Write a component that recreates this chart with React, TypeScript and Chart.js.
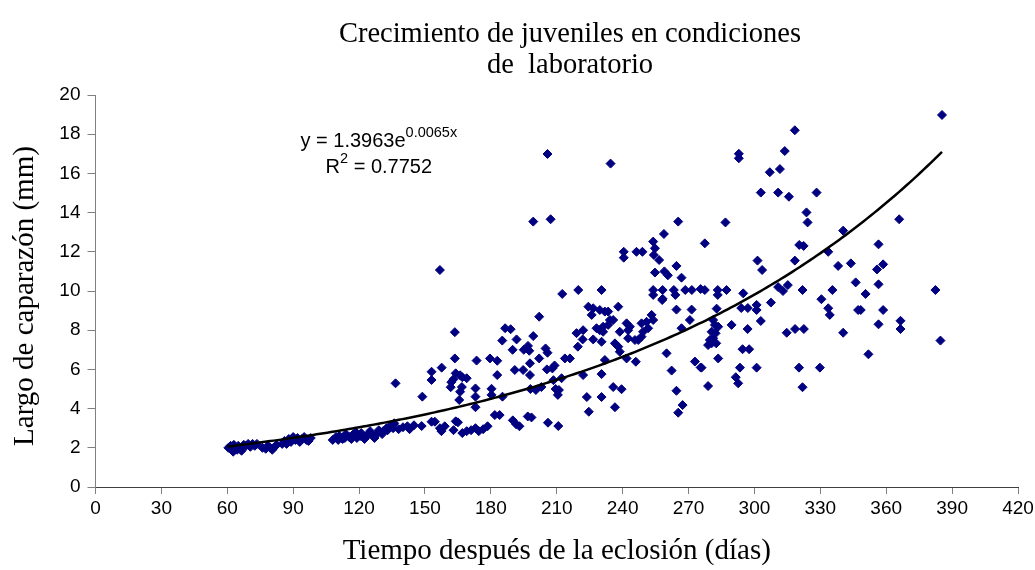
import React, { useEffect, useRef } from 'react';
import { Chart, registerables } from 'chart.js';

Chart.register(...registerables);

// Days after hatching for each measured juvenile
const dias: number[] = [
  // first weeks
  60.5, 61.5, 62, 62.7, 63, 63.5, 64.5, 65, 66, 66.5, 67.5, 68.5, 69.5, 70.5, 71.5, 72.5, 73.5,
  76, 77.5, 78.5, 79.5, 80.5, 81.5, 82.5, 85, 86, 87, 88, 89, 90, 91, 92, 93, 94, 95, 96, 97, 98,
  108, 109.5, 110.5, 111, 112.5, 113.5, 114, 115.5, 116.5, 117, 118.5, 119, 120.5, 121, 122.5, 123,
  124.5, 125, 126.5, 127, 128.5, 129, 130.5, 131, 132.5, 133, 134, 135.5, 136,
  138, 140, 142, 143, 145, 148.5, 153, 154.5, 156.8, 157.5, 159, 163, 164, 165, 167, 169, 171, 173,
  174.5, 176.5, 178.5,
  // 150 - 220 days
  202, 186.5, 189, 163.6, 219, 185.2, 191.7, 199.3, 196.9, 195, 197.5, 189.9, 204.9, 205.8, 219.6,
  163.6, 173.5, 179.6, 182.9, 197.8, 202, 213.7, 216, 136.6, 153, 157.6, 153, 164, 166, 163, 167,
  162, 169, 161.7, 166.8, 166, 165.6, 173, 173, 173, 148.8, 180.3, 180.3, 182.9, 190.9, 194.7,
  197.8, 205.5, 208, 209, 212.2, 208.5, 209.5, 211, 210.5, 198, 200.5, 203, 185.3, 181.8, 184,
  190, 193, 191.5, 196.8, 198.5, 206, 210.7,
  205.8, 199.3, 207.2, 156.8, 212.5, 219.8,
  // 220 - 290 days
  234.5, 265.3, 258.8, 253.9, 254.7, 277.4, 240.5, 240.5, 246.3, 249, 254.2, 256.6, 264.5, 254.7,
  259, 260.6, 266.8, 230.4, 253.9, 253.9, 258.2, 258.2, 263.3, 264, 268.5, 271.5, 275.5, 277.4,
  283.3, 283.3, 287.3,
  224.4, 226.6, 225.9, 229.6, 231.9, 233.4, 238, 264.5, 271.4, 282.8, 258, 270.6, 234.2, 235.7,
  233.4, 231.1, 228.1, 229.6, 231.1, 222, 221.8, 226.6, 230.4, 241.8, 243.3, 242.5, 238.7, 248.6,
  250.9, 253.2, 253.9, 251.6, 249.3, 236.5, 238, 238.7, 242.5, 245.6, 247.1, 248.6, 231.9, 241.8,
  246, 260, 266.8, 262.3, 272.9, 275.5, 278.9, 281.2, 282, 283.5, 280.5, 282.3, 281.2, 279.7,
  280.5, 282.6, 278.9, 283.5, 222, 230.4, 235.7, 239.5, 223.7, 230.4, 236.5, 224.6, 264.5, 267.3,
  265.3,
  // 285 - 350 days
  318.4, 292.9, 292.9, 313.8, 307, 311.6, 302.9, 310.8, 315.7, 328.3, 323.7, 324.2, 286.8, 340.4,
  320.4, 322.4, 333.6, 301.4, 303.5, 318.4, 338.1, 343.9, 346.1, 310.8, 313, 315.2, 321.9, 335.5,
  294.9, 330.5, 307.5, 301, 294, 297, 333.6,
  301, 334.3, 347.2, 289.6, 296.9, 302.9, 314.7, 318.5, 322.5, 340.4, 294.6, 297.6, 275.9, 293.4,
  301, 320.3, 329.8, 291.5, 292.6, 321.9,
  // last measurements
  385.4, 365.9, 356.5, 355.8, 358.6, 356.5, 382.4, 350.6, 348.4, 358.6, 356.5, 366.5, 366.5, 384.7,
  351.9,
];

// Carapace length (mm), same order as dias
const largo: number[] = [
  2.0, 2.1, 1.95, 1.8, 2.15, 2.0, 1.9, 2.1, 2.0, 1.85, 2.15, 2.1, 2.2, 2.05, 2.2, 2.1, 2.2,
  2.0, 1.95, 2.1, 2.0, 1.9, 2.05, 2.15, 2.2, 2.35, 2.2, 2.45, 2.3, 2.55, 2.4, 2.5, 2.3, 2.45, 2.55, 2.4, 2.35, 2.5,
  2.4, 2.55, 2.4, 2.6, 2.45, 2.5, 2.7, 2.55, 2.45, 2.65, 2.8, 2.5, 2.6, 2.75, 2.45, 2.55,
  2.7, 2.85, 2.6, 2.5, 2.75, 2.9, 2.7, 2.85, 3.0, 2.9, 3.1, 3.0, 3.25,
  2.95, 3.05, 3.1, 2.95, 3.15, 3.11, 3.33, 3.33, 3.0, 2.85, 3.1, 2.9, 3.35, 3.3, 2.75, 2.85, 2.9, 3.0,
  2.85, 2.95, 3.1,
  8.69, 8.1, 8.05, 7.9, 7.85, 7.47, 7.53, 7.7, 7.2, 7.0, 6.95, 7.0, 7.07, 6.85, 7.16,
  6.56, 6.45, 6.56, 6.44, 6.31, 6.56, 6.56, 6.56, 5.29, 5.88, 6.09, 5.46, 5.8, 5.7, 5.5, 5.6,
  5.35, 5.55, 5.09, 5.1, 4.86, 4.44, 5.03, 4.61, 4.07, 4.61, 5.01, 4.7, 5.71, 5.97, 5.97,
  5.71, 6.0, 6.05, 6.2, 5.55, 5.45, 5.0, 4.95, 4.7, 5.0, 4.95, 5.1, 4.61, 3.67, 3.67,
  3.4, 3.1, 3.2, 3.6, 3.55, 3.28, 3.11,
  16.99, 13.54, 13.66, 11.07, 9.85, 10.05,
  16.5, 13.54, 12.91, 12.52, 12.18, 12.43, 12.0, 11.7, 12.0, 12.0, 11.84, 11.58, 11.28, 10.94,
  11.0, 10.8, 10.68, 10.05, 10.05, 9.8, 10.05, 9.6, 10.05, 9.8, 10.05, 10.05, 10.1, 10.05,
  10.05, 9.8, 10.05,
  9.2, 9.12, 8.78, 9.03, 8.95, 8.95, 9.2, 9.05, 9.05, 9.1, 9.54, 8.52, 8.52, 8.52,
  8.27, 8.18, 8.1, 8.0, 7.92, 8.0, 7.53, 7.53, 7.41, 8.35, 8.18, 8.0, 7.92, 8.35,
  8.43, 8.78, 8.52, 8.1, 7.92, 7.33, 7.16, 6.9, 7.59, 7.5, 7.5, 7.67, 6.48, 6.56,
  6.39, 6.82, 8.1, 5.94, 6.4, 6.1, 5.15, 8.52, 8.27, 8.18, 7.92, 7.84, 7.59, 7.5,
  7.33, 7.33, 7.24, 6.56, 5.71, 5.76, 5.1, 4.99, 4.59, 4.59, 4.07, 3.84, 4.91, 4.18,
  3.79,
  18.2, 16.77, 17.0, 17.14, 16.06, 16.22, 15.02, 15.02, 14.81, 15.02, 14.01, 13.5, 13.5, 13.08,
  12.35, 12.3, 12.0, 11.55, 11.07, 11.55, 11.28, 11.41, 10.44, 10.2, 10.0, 10.3, 10.05, 10.05,
  9.88, 9.58, 9.41, 9.29, 9.13, 9.13, 9.12,
  9.03, 8.78, 9.03, 8.27, 8.06, 8.47, 7.87, 8.06, 8.06, 7.87, 7.03, 7.03, 6.09, 6.09,
  6.09, 6.09, 6.09, 5.6, 5.29, 5.09,
  18.98, 13.66, 12.38, 11.1, 11.36, 10.34, 10.05, 9.85, 9.03, 9.03, 8.3, 8.06, 8.48, 7.47,
  6.77,
];

// Axis ticks
const xTickValues = [0, 30, 60, 90, 120, 150, 180, 210, 240, 270, 300, 330, 360, 390, 420];
const yTickValues = [0, 2, 4, 6, 8, 10, 12, 14, 16, 18, 20];

// Exponential trend line y = a * e^(b x)
const trendA = 1.3963;
const trendB = 0.0065;
const trendR2 = 0.7752;
const trendStart = 60;
const trendEnd = 385.4;

const titleLines = ['Crecimiento de juveniles en condiciones', 'de  laboratorio'];
const xAxisTitle = 'Tiempo después de la eclosión (días)';
const yAxisTitle = 'Largo de caparazón (mm)';

const SERIF = '"Liberation Serif", "Times New Roman", serif';
const SANS = '"Liberation Sans", Arial, sans-serif';
const MARKER = '#000080';

function trendPoints() {
  const pts: { x: number; y: number }[] = [];
  const n = 200;
  for (let i = 0; i <= n; i++) {
    const x = trendStart + ((trendEnd - trendStart) * i) / n;
    pts.push({ x, y: trendA * Math.exp(trendB * x) });
  }
  return pts;
}

const textPlugin = {
  id: 'chartTexts',
  afterDraw(chart: any) {
    const { ctx, chartArea, scales } = chart;
    ctx.save();
    ctx.fillStyle = '#000';
    ctx.textBaseline = 'alphabetic';
    ctx.textAlign = 'center';

    // title
    ctx.font = `28.5px ${SERIF}`;
    ctx.fillText(titleLines[0], 570, 41.5);
    ctx.fillText(titleLines[1], 570, 73);

    // x axis title
    ctx.font = `29px ${SERIF}`;
    ctx.fillText(xAxisTitle, (chartArea.left + chartArea.right) / 2, 559);

    // y axis title
    ctx.save();
    ctx.translate(33, 296);
    ctx.rotate(-Math.PI / 2);
    ctx.fillText(yAxisTitle, 0, 0);
    ctx.restore();

    // trend equation
    const cx = scales.x.getPixelForValue(129);
    const y1 = scales.y.getPixelForValue(17.35);
    const y2 = scales.y.getPixelForValue(16.0);
    const big = `20px ${SANS}`;
    const small = `14.5px ${SANS}`;
    ctx.textAlign = 'left';

    const eqMain = `y = ${trendA.toFixed(4)}e`;
    const eqExp = `${trendB.toFixed(4)}x`;
    ctx.font = big;
    const w1 = ctx.measureText(eqMain).width;
    ctx.font = small;
    const w2 = ctx.measureText(eqExp).width;
    let x0 = cx - (w1 + w2) / 2;
    ctx.font = big;
    ctx.fillText(eqMain, x0, y1);
    ctx.font = small;
    ctx.fillText(eqExp, x0 + w1, y1 - 10);

    const rMain = 'R';
    const rExp = '2';
    const rRest = ` = ${trendR2.toFixed(4)}`;
    ctx.font = big;
    const wr = ctx.measureText(rMain).width;
    const wrest = ctx.measureText(rRest).width;
    ctx.font = small;
    const wexp = ctx.measureText(rExp).width;
    x0 = cx - (wr + wexp + wrest) / 2;
    ctx.font = big;
    ctx.fillText(rMain, x0, y2);
    ctx.font = small;
    ctx.fillText(rExp, x0 + wr, y2 - 10);
    ctx.font = big;
    ctx.fillText(rRest, x0 + wr + wexp, y2);

    ctx.restore();
  },
};

export default function App() {
  const canvasRef = useRef<HTMLCanvasElement | null>(null);

  useEffect(() => {
    if (!canvasRef.current) return;
    const points = dias.map((x, i) => ({ x, y: largo[i] }));

    const chart = new Chart(canvasRef.current, {
      type: 'scatter',
      data: {
        datasets: [
          {
            type: 'line',
            label: 'Tendencia',
            data: trendPoints(),
            borderColor: '#000',
            borderWidth: 2.5,
            pointRadius: 0,
            fill: false,
            tension: 0,
          } as any,
          {
            label: 'Largo',
            data: points,
            pointStyle: 'rectRot',
            pointRadius: 4.5,
            pointHoverRadius: 4.5,
            backgroundColor: MARKER,
            borderColor: MARKER,
            borderWidth: 1,
          },
        ],
      },
      options: {
        animation: false,
        responsive: true,
        maintainAspectRatio: false,
        layout: { padding: { top: 95, right: 17, left: 0, bottom: 0 } },
        plugins: {
          legend: { display: false },
          title: { display: false },
          tooltip: { enabled: false },
        },
        scales: {
          x: {
            type: 'linear',
            min: 0,
            max: 420,
            afterBuildTicks: (scale: any) => {
              scale.ticks = xTickValues.map((v) => ({ value: v }));
            },
            afterFit: (scale: any) => {
              scale.height = 83;
              scale.paddingLeft = 0;
              scale.paddingRight = 0;
            },
            grid: {
              drawOnChartArea: false,
              drawTicks: true,
              tickLength: 7,
              color: '#808080',
            },
            border: { color: '#404040', width: 1 },
            ticks: {
              color: '#000',
              font: { family: SANS, size: 19 },
              padding: 3,
              maxRotation: 0,
              autoSkip: false,
            },
          },
          y: {
            type: 'linear',
            min: 0,
            max: 20,
            afterBuildTicks: (scale: any) => {
              scale.ticks = yTickValues.map((v) => ({ value: v }));
            },
            afterFit: (scale: any) => {
              scale.width = 95.5;
              scale.paddingTop = 0;
              scale.paddingBottom = 0;
            },
            grid: {
              drawOnChartArea: false,
              drawTicks: true,
              tickLength: 8,
              color: '#808080',
            },
            border: { color: '#808080', width: 1 },
            ticks: {
              color: '#000',
              font: { family: SANS, size: 19 },
              padding: 7,
              autoSkip: false,
            },
          },
        },
      },
      plugins: [textPlugin],
    });

    return () => chart.destroy();
  }, []);

  return (
    <div style={{ position: 'absolute', left: 0, top: 0, width: 1035, height: 570, background: '#fff' }}>
      <canvas ref={canvasRef} />
    </div>
  );
}
